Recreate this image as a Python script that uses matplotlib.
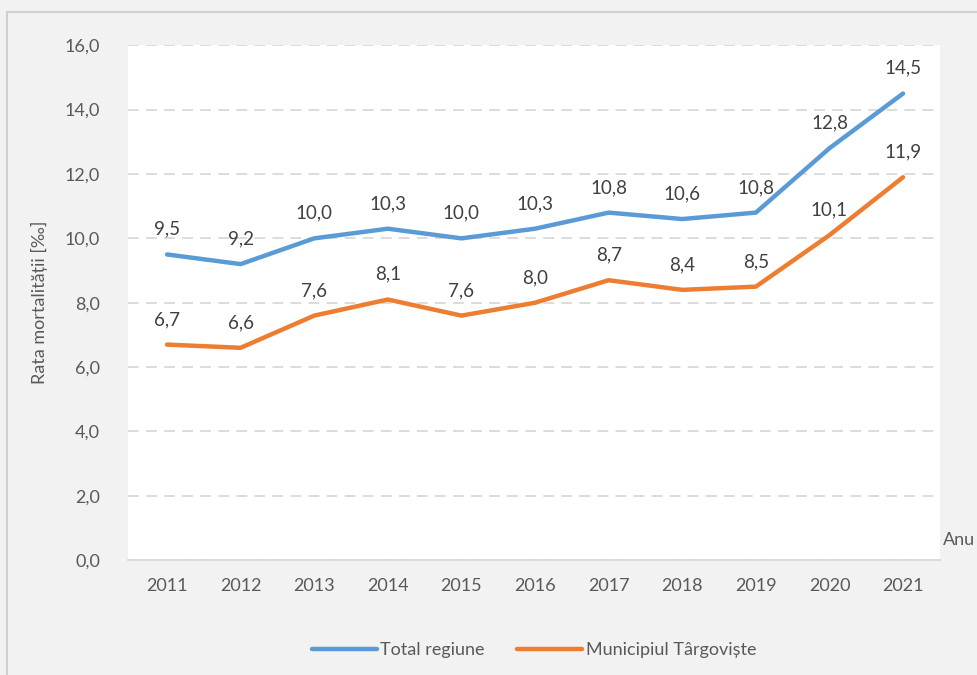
import matplotlib.pyplot as plt
from matplotlib.patches import Rectangle

years = ["2011", "2012", "2013", "2014", "2015", "2016", "2017", "2018", "2019", "2020", "2021"]
total_regiune = [9.5, 9.2, 10.0, 10.3, 10.0, 10.3, 10.8, 10.6, 10.8, 12.8, 14.5]
municipiul = [6.7, 6.6, 7.6, 8.1, 7.6, 8.0, 8.7, 8.4, 8.5, 10.1, 11.9]

plt.rcParams['font.family'] = ['Lato', 'DejaVu Sans']
text_col = '#595959'

fig = plt.figure(figsize=(9.77, 6.75), dpi=100)
fig.patch.set_facecolor('#f2f2f2')
# outer chart border (only top and left visible in the crop)
fig.add_artist(Rectangle((7 / 977, -0.1), 1.2, 1.1 - 12 / 675, transform=fig.transFigure,
                         fill=False, edgecolor='#d0d0d0', linewidth=1.5))

ax = fig.add_axes([0.131, 0.170, 0.831, 0.763])
ax.set_facecolor('white')

x = list(range(len(years)))
ax.plot(x, total_regiune, color='#5b9bd5', linewidth=3.2, label='Total regiune', solid_capstyle='round')
ax.plot(x, municipiul, color='#ed7d31', linewidth=3.2, label='Municipiul Târgoviște', solid_capstyle='round')

for xi, v in zip(x, total_regiune):
    ax.annotate(f"{v:.1f}".replace('.', ','), (xi, v), xytext=(0, 12), textcoords='offset points',
                ha='center', va='bottom', fontsize=13.5, color='#404040')
for xi, v in zip(x, municipiul):
    ax.annotate(f"{v:.1f}".replace('.', ','), (xi, v), xytext=(0, 12), textcoords='offset points',
                ha='center', va='bottom', fontsize=13.5, color='#404040')

ax.set_xlim(-0.53, 10.5)
ax.set_ylim(0, 16)
ax.set_yticks([0, 2, 4, 6, 8, 10, 12, 14, 16])
ax.set_yticklabels([f"{t:.1f}".replace('.', ',') for t in ax.get_yticks()])
ax.set_xticks(x)
ax.set_xticklabels(years)
ax.tick_params(axis='both', length=0, labelsize=13, labelcolor=text_col)
ax.tick_params(axis='x', pad=13)
ax.tick_params(axis='y', pad=20)

ax.grid(axis='y', color='#d9d9d9', linestyle=(0, (6, 4)), linewidth=1.3)
ax.set_axisbelow(True)
for s in ['top', 'right', 'left']:
    ax.spines[s].set_visible(False)
ax.spines['bottom'].set_color('#d9d9d9')
ax.spines['bottom'].set_linewidth(1.3)

ax.set_ylabel('Rata mortalității [‰]', fontsize=13, color=text_col, labelpad=12)
fig.text(943 / 977, 1 - 540 / 675, 'Anu', fontsize=13, color=text_col, ha='left', va='center')

ax.legend(loc='center', bbox_to_anchor=(0.5, -0.175), ncol=2, frameon=False, fontsize=13,
          labelcolor=text_col, handlelength=3.6, handletextpad=0.2, columnspacing=1.8)

fig.savefig('out.png', dpi=100, facecolor=fig.get_facecolor())
